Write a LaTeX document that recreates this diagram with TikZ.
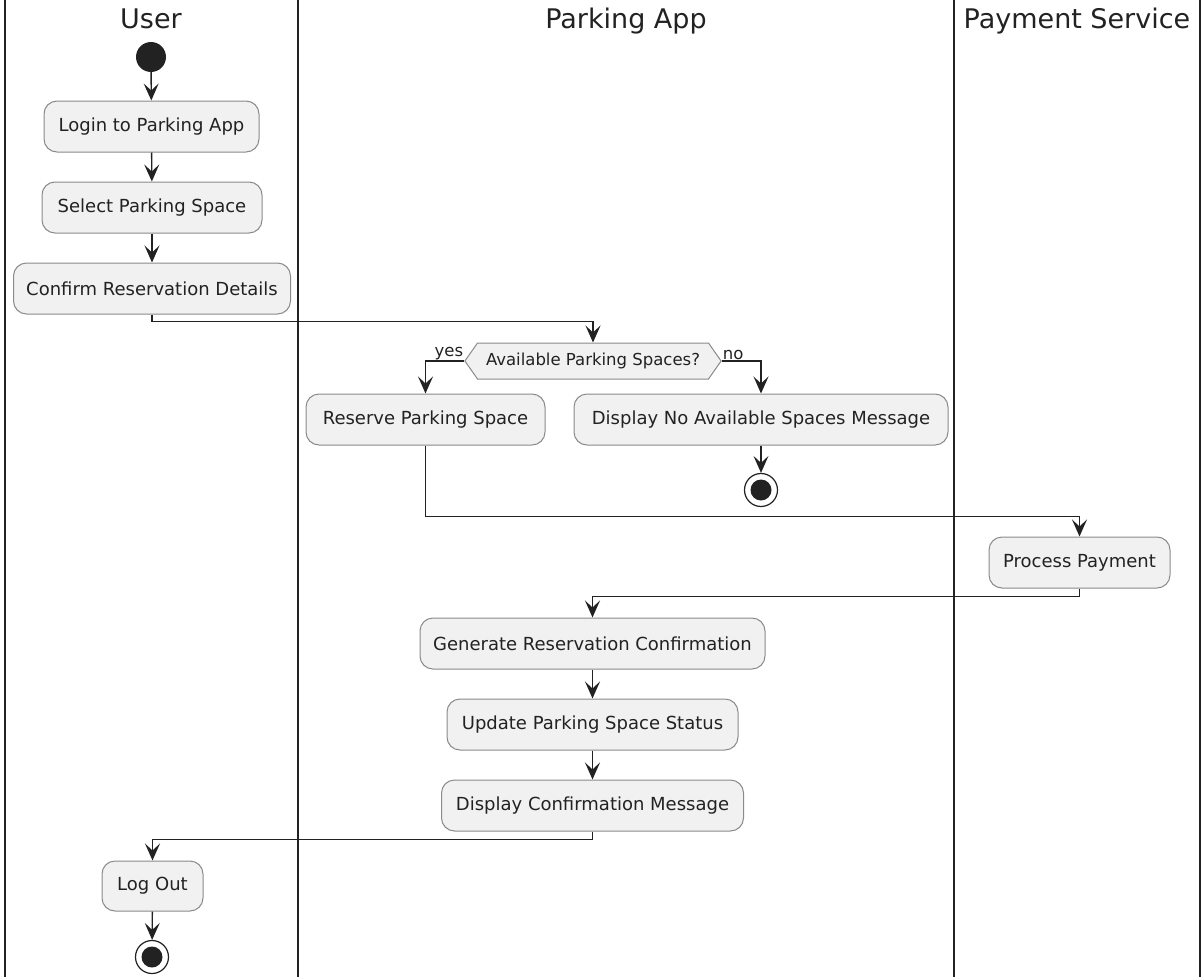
\documentclass[tikz,border=0pt]{standalone}
\usepackage{fontspec}
\setmainfont{DejaVu Sans}
\usetikzlibrary{arrows.meta,shapes.symbols}
\definecolor{actfill}{HTML}{F1F1F1}
\definecolor{actline}{HTML}{8A8A8A}
\definecolor{ink}{HTML}{222222}

\begin{document}
\begin{tikzpicture}[x=1pt, y=-1pt,
  lane/.style={draw=ink, line width=2pt},
  hdr/.style={font=\fontsize{27}{32}\selectfont, text=ink, anchor=base},
  act/.style={rectangle, rounded corners=13pt, draw=actline, line width=1pt,
    fill=actfill, minimum height=51pt, inner xsep=0pt,
    font=\fontsize{18}{22}\selectfont, text=ink},
  dec/.style={signal, signal to=west and east, signal pointer angle=110,
    draw=actline, line width=1pt, fill=actfill, minimum height=36pt,
    inner xsep=8.5pt, inner ysep=0pt, font=\fontsize{16.5}{20}\selectfont,
    text=ink},
  startpt/.style={circle, fill=ink, minimum size=30pt, inner sep=0pt},
  stoppt/.style={circle, draw=ink, line width=1.2pt, fill=white,
    minimum size=33pt, inner sep=0pt,
    path picture={\fill[ink] (path picture bounding box.center) circle (10.5pt);}},
  flow/.style={draw=ink, line width=1.4pt,
    -{Stealth[length=17pt, width=15pt, inset=7pt]}},
  brlbl/.style={font=\fontsize{16.5}{20}\selectfont, text=ink, inner sep=1pt},
]
\useasboundingbox (0,0) rectangle (1203,977);

% Swimlanes
\draw[lane] (5,0) -- (5,977);
\draw[lane] (298,0) -- (298,977);
\draw[lane] (954,0) -- (954,977);
\draw[lane] (1200,0) -- (1200,977);
\node[hdr] at (151,28) {User};
\node[hdr] at (626,28) {Parking App};
\node[hdr] at (1077,28) {Payment Service};

% User lane
\node[startpt] (start) at (151,57) {};
\node[act, minimum width=215pt] (login) at (151.5,126.5) {Login to Parking App};
\node[act, minimum width=220pt] (select) at (152,207.5) {Select Parking Space};
\node[act, minimum width=277pt] (confirm) at (152,288.5) {Confirm Reservation Details};

% Parking App lane: availability check
\node[dec] (avail) at (593,361) {Available Parking Spaces?};
\node[act, minimum width=239pt] (reserve) at (425.5,419.5) {Reserve Parking Space};
\node[act, minimum width=374pt] (nomsg) at (761,419.5) {Display No Available Spaces Message};
\node[stoppt] (stopb) at (761,490) {};
\node[brlbl, anchor=south east] (yes) at (avail.west) {yes};
\node[brlbl, anchor=south west] (no) at (avail.east) {no};

% Payment Service lane
\node[act, minimum width=181pt] (pay) at (1079.5,562.5) {Process Payment};

% Parking App lane: confirmation
\node[act, minimum width=345pt] (gen) at (592.5,643.5) {Generate Reservation Confirmation};
\node[act, minimum width=291pt] (upd) at (592.5,724.5) {Update Parking Space Status};
\node[act, minimum width=302pt] (conf) at (592.5,805.5) {Display Confirmation Message};

% User lane: end
\node[act, minimum width=101pt, minimum height=50pt] (logout) at (152.5,886) {Log Out};
\node[stoppt] (stopa) at (152,957) {};

% Flows
\draw[flow] (start) -- (login);
\draw[flow] (login) -- (select);
\draw[flow] (select) -- (confirm);
\draw[flow] (confirm.south) -- ++(0,7) -| (avail.north);
\draw[flow] (avail.west) -| (reserve.north);
\draw[flow] (avail.east) -| (nomsg.north);
\draw[flow] (nomsg) -- (stopb);
\draw[flow] (reserve.south) -- ++(0,71) -| (pay.north);
\draw[flow] (pay.south) -- ++(0,8) -| (gen.north);
\draw[flow] (gen) -- (upd);
\draw[flow] (upd) -- (conf);
\draw[flow] (conf.south) -- ++(0,8) -| (logout.north);
\draw[flow] (logout) -- (stopa);

\end{tikzpicture}
\end{document}
